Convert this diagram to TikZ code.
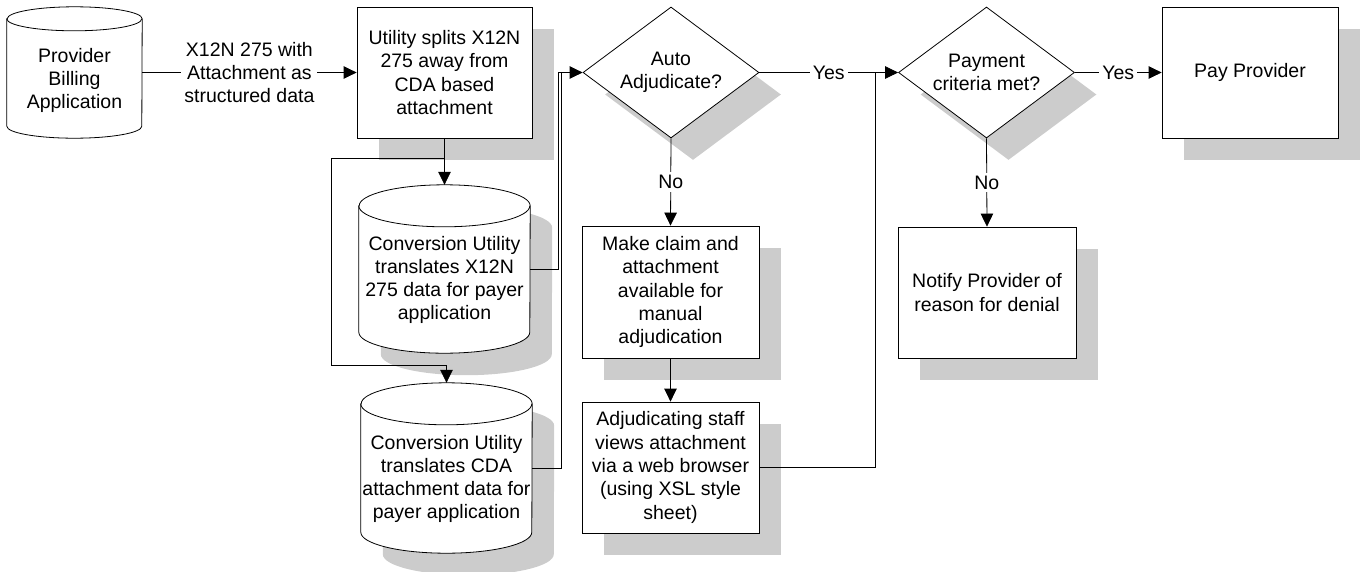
\documentclass[tikz,border=0pt]{standalone}
\usepackage{fontspec}
\setmainfont{Liberation Sans}
\usetikzlibrary{arrows.meta,shapes.geometric,shadows,backgrounds}
\definecolor{shade}{HTML}{CCCCCC}

% drum outline: node, x radius, y radius, style, offset
\newcommand{\drum}[5]{%
  \path[#4] ([shift={(#5)},yshift=-#3]#1.north west)
    -- ([shift={(#5)},yshift=#3]#1.south west)
    arc[start angle=180,end angle=360,x radius=#2,y radius=#3]
    -- ([shift={(#5)},yshift=-#3]#1.north east)
    arc[start angle=0,end angle=180,x radius=#2,y radius=#3] -- cycle;
  \path[#4,fill=none] ([shift={(#5)},yshift=-#3]#1.north west)
    arc[start angle=180,end angle=360,x radius=#2,y radius=#3];}

\begin{document}
\begin{tikzpicture}[x=1pt,y=-1pt,
    every node/.style={font=\fontsize{19.5}{23.3}\selectfont, align=center},
    shadowed/.style={drop shadow={shadow xshift=22pt, shadow yshift=-22pt,
        fill=shade, opacity=1}},
    box/.style={draw, fill=white, line width=.8pt, inner sep=2pt, shadowed},
    choice/.style={diamond, aspect=1.34, draw, fill=white, line width=.8pt,
        inner sep=0pt, minimum width=176pt, minimum height=131pt, shadowed},
    drumnode/.style={inner sep=0pt},
    lbl/.style={fill=white, inner sep=3pt},
    flow/.style={line width=.8pt, -{Triangle[length=13pt,width=12.5pt]}},
    link/.style={line width=.8pt}]
    \useasboundingbox (0,0) rectangle (1361,571);

    % stores
    \node[drumnode, minimum width=135pt, minimum height=131pt,
        label={[yshift=-8pt]center:{Provider\\Billing\\Application}}]
        (billing) at (74.5,72.5) {};
    \node[drumnode, minimum width=171pt, minimum height=168pt,
        label={[yshift=-11pt]center:{Conversion Utility\\translates X12N\\275 data for payer\\application}}]
        (xconv) at (444.5,269) {};
    \node[drumnode, minimum width=171pt, minimum height=170pt,
        label={[yshift=-11pt]center:{Conversion Utility\\translates CDA\\attachment data for\\payer application}}]
        (cdaconv) at (446.5,468) {};

    % steps
    \node[box, minimum width=175pt, minimum height=131pt] (split) at (444.5,72.5)
        {Utility splits X12N\\275 away from\\CDA based\\attachment};
    \node[choice] (auto) at (671,72.5) {Auto\\Adjudicate?};
    \node[box, minimum width=177pt, minimum height=132pt] (manual) at (670.5,292)
        {Make claim and\\attachment\\available for\\manual\\adjudication};
    \node[box, minimum width=177pt, minimum height=131pt] (staff) at (670.5,467.5)
        {Adjudicating staff\\views attachment\\via a web browser\\(using XSL style\\sheet)};
    \node[choice] (criteria) at (986.5,72.5) {Payment\\criteria met?};
    \node[box, minimum width=176pt, minimum height=131pt] (pay) at (1250,72.5)
        {Pay Provider};
    \node[box, minimum width=178pt, minimum height=131pt] (notify) at (987,292.5)
        {Notify Provider of\\reason for denial};

    \begin{scope}[on background layer]
        \drum{xconv}{85.5pt}{21pt}{fill=shade}{22,22}
        \drum{cdaconv}{85.5pt}{21pt}{fill=shade}{22,22}
        \drum{billing}{67.5pt}{12pt}{draw,fill=white,line width=.8pt}{0,0}
        \drum{xconv}{85.5pt}{21pt}{draw,fill=white,line width=.8pt}{0,0}
        \drum{cdaconv}{85.5pt}{21pt}{draw,fill=white,line width=.8pt}{0,0}
    \end{scope}

    % connectors
    \coordinate (fork) at (444.5,158);
    \coordinate (loop) at (331,365);
    \coordinate (join1) at (558,72.5);
    \coordinate (join2) at (561,72.5);
    \coordinate (join3) at (875,72.5);

    \draw[flow] (billing) -- node[lbl] (sent) {X12N 275 with\\Attachment as\\structured data} (split);
    \draw[flow] (split) -- (xconv);
    \draw[flow] (fork) -| (loop) -| (cdaconv.north);
    \draw[link] (xconv.east) -| (join1);
    \draw[link] (cdaconv.east) -| (join2);
    \draw[flow] (join1) -- (auto.west);
    \draw[flow] (auto.east) -- node[lbl] (yes1) {Yes} (criteria.west);
    \draw[flow] (auto.south) -- node[lbl] (no1) {No} (manual.north);
    \draw[flow] (manual) -- (staff);
    \draw[link] (staff.east) -| (join3);
    \draw[flow] (criteria.east) -- node[lbl] (yes2) {Yes} (pay.west);
    \draw[flow] (criteria.south) -- node[lbl] (no2) {No} (notify.north);
\end{tikzpicture}
\end{document}
